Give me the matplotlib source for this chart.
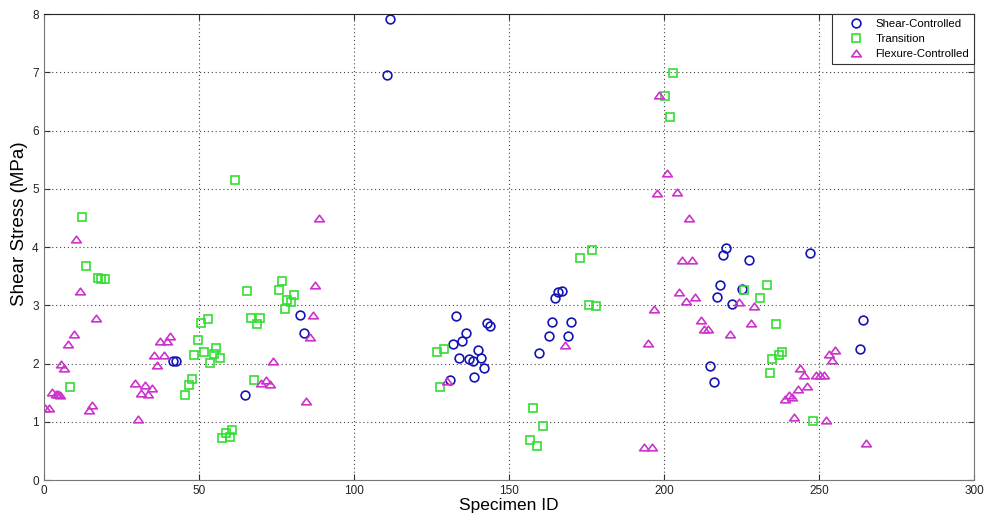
import numpy as np
import matplotlib
matplotlib.use('Agg')
import matplotlib.pyplot as plt
from matplotlib.path import Path

plt.rcParams['font.family'] = ['Liberation Sans', 'DejaVu Sans']

# Shear-Controlled
shear_id = [41.7, 42.8, 64.8, 82.8, 83.9, 110.8, 111.8, 131.1, 131.8, 132.9, 134.0, 134.9,
            136.0, 137.1, 138.3, 138.8, 140.1, 140.9, 142.0, 142.8, 144.0, 159.8, 163.0,
            163.9, 164.9, 165.8, 167.0, 168.9, 170.1, 214.8, 216.1, 217.1, 218.1, 219.1,
            220.0, 222.0, 225.1, 227.4, 246.9, 263.1, 264.1]
shear_v = [2.04, 2.04, 1.46, 2.83, 2.52, 6.95, 7.91, 1.71, 2.34, 2.82, 2.10, 2.39,
           2.53, 2.07, 2.05, 1.77, 2.23, 2.09, 1.92, 2.70, 2.64, 2.18, 2.47,
           2.71, 3.13, 3.22, 3.25, 2.47, 2.71, 1.95, 1.69, 3.14, 3.34, 3.87,
           3.99, 3.02, 3.28, 3.77, 3.89, 2.25, 2.75]

# Transition
trans_id = [8.6, 12.5, 13.8, 17.5, 18.6, 19.8, 45.7, 46.8, 47.7, 48.5, 49.8, 50.9, 51.6,
            53.0, 53.8, 54.8, 55.7, 56.8, 57.5, 58.7, 60.0, 60.8, 61.6, 65.6, 66.7, 67.8,
            68.7, 69.9, 75.8, 76.7, 77.8, 78.6, 79.9, 80.6, 126.8, 127.7, 128.9, 156.8,
            157.7, 158.9, 160.9, 172.8, 175.8, 176.9, 178.1, 200.4, 202.0, 202.9, 225.6,
            231.0, 233.0, 234.1, 234.8, 236.1, 237.0, 238.1, 247.9]
trans_v = [1.59, 4.51, 3.67, 3.46, 3.45, 3.45, 1.46, 1.63, 1.74, 2.15, 2.41, 2.70, 2.19,
           2.77, 2.01, 2.16, 2.26, 2.09, 0.72, 0.80, 0.74, 0.86, 5.15, 3.25, 2.79, 1.72,
           2.68, 2.79, 3.27, 3.41, 2.94, 3.09, 3.05, 3.17, 2.20, 1.59, 2.25, 0.68,
           1.24, 0.59, 0.93, 3.82, 3.00, 3.95, 2.98, 6.60, 6.24, 6.99, 3.27,
           3.12, 3.35, 1.84, 2.08, 2.67, 2.15, 2.20, 1.02]

# Flexure-Controlled
flex_id = [0.6, 1.9, 2.8, 3.9, 4.6, 5.4, 5.7, 6.5, 7.8, 9.8, 10.6, 11.7, 14.6, 15.6, 16.8,
           29.6, 30.4, 31.3, 32.6, 33.7, 34.9, 35.6, 36.6, 37.6, 38.7, 39.8, 40.9, 70.2,
           71.8, 72.9, 73.8, 84.7, 85.8, 86.9, 87.6, 88.9, 130.0, 168.1, 193.5, 194.9,
           196.0, 196.8, 197.6, 198.4, 200.9, 204.1, 204.8, 205.9, 207.0, 208.0, 208.9,
           210.1, 211.8, 212.9, 214.0, 221.1, 224.0, 228.0, 229.0, 238.8, 240.1, 241.2,
           242.0, 243.0, 243.9, 245.0, 246.0, 249.0, 250.3, 251.4, 252.0, 253.0, 254.1,
           255.2, 265.1]
flex_v = [1.23, 1.23, 1.51, 1.48, 1.47, 1.46, 1.99, 1.93, 2.34, 2.50, 4.13, 3.24, 1.20, 1.29, 2.79,
          1.66, 1.04, 1.49, 1.63, 1.47, 1.58, 2.15, 1.97, 2.38, 2.15, 2.39, 2.48, 1.67,
          1.72, 1.65, 2.05, 1.35, 2.46, 2.83, 3.35, 4.49, 1.70, 2.32, 0.56, 2.36,
          0.56, 2.93, 4.93, 6.61, 5.27, 4.95, 3.22, 3.77, 3.07, 4.49, 3.77,
          3.15, 2.75, 2.59, 2.60, 2.51, 3.05, 2.69, 2.99, 1.39, 1.46, 1.43,
          1.09, 1.56, 1.93, 1.80, 1.61, 1.81, 1.81, 1.81, 1.03, 2.16, 2.06,
          2.24, 0.64]

# wide matlab-like triangle
tri = Path([[0, 0.68], [-1, -0.68], [1, -0.68], [0, 0.68]],
           [Path.MOVETO, Path.LINETO, Path.LINETO, Path.CLOSEPOLY])

fig = plt.figure(figsize=(9.85, 5.19), dpi=100)
ax = fig.add_axes([0.0442, 0.0751, 0.9451, 0.8979])

ax.plot(shear_id, shear_v, linestyle='none', marker='o', markersize=6.3,
        markerfacecolor='none', markeredgecolor='#1414b4', markeredgewidth=1.2,
        label='Shear-Controlled')
ax.plot(trans_id, trans_v, linestyle='none', marker='s', markersize=5.2,
        markerfacecolor='none', markeredgecolor='#33dd33', markeredgewidth=1.2,
        label='Transition')
ax.plot(flex_id, flex_v, linestyle='none', marker=tri, markersize=7,
        markerfacecolor='none', markeredgecolor='#cc33cc', markeredgewidth=1.2,
        label='Flexure-Controlled')

ax.set_xlim(0, 300)
ax.set_ylim(0, 8)
ax.set_xticks(np.arange(0, 301, 50))
ax.set_yticks(np.arange(0, 9, 1))
ax.grid(True, linestyle=(0, (1, 2.5)), color='#444444', linewidth=0.8)
ax.tick_params(direction='in', top=True, right=True, labelsize=8.5, length=4,
               color='#333333', labelcolor='#222222')
for s in ax.spines.values():
    s.set_color('#777777')
ax.spines['top'].set_color('#222222')

ax.set_xlabel('Specimen ID', fontsize=12.5, labelpad=1)
ax.set_ylabel('Shear Stress (MPa)', fontsize=13.5)
ax.yaxis.set_label_coords(-0.017, 0.55)

leg = ax.legend(loc='upper right', fontsize=8.2, borderaxespad=0, fancybox=False,
                framealpha=1, edgecolor='#333333', handlelength=3.3,
                handletextpad=0.1, borderpad=0.45, labelspacing=0.42)
leg.get_frame().set_linewidth(0.8)

fig.savefig('out.png', dpi=100)
